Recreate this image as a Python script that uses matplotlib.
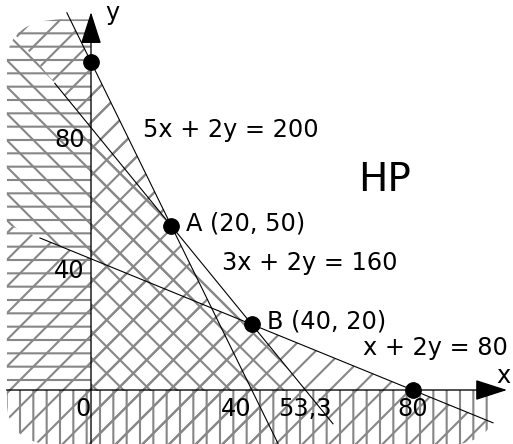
import numpy as np
import matplotlib.pyplot as plt
from matplotlib.patches import Polygon, FancyBboxPatch

plt.rcParams['font.family'] = ['DejaVu Sans']
plt.rcParams['hatch.linewidth'] = 1.9

# constraint lines  a*x + b*y = c
coef_a = [5, 3, 1]
coef_b = [2, 2, 2]
rhs = [200, 160, 80]
line_text = ['5x + 2y = 200', '3x + 2y = 160', 'x + 2y = 80']
line_from = [-6, -9, -12.7]      # x range where each line is drawn
line_to = [46.6, 60.2, 100]
text_x = [12.9, 32.6, 67.7]       # label baseline positions
text_y = [77.1, 36.6, 10.7]

# corner points
pt_x = [0, 20, 40, 80]
pt_y = [100, 50, 20, 0]
pt_name = ['', 'A', 'B', '']

# axis numbers
xnum_val = [0, 40, 53.3, 80]
xnum_text = ['0', '40', '53,3', '80']
xnum_ha = ['right', 'right', 'center', 'center']
ynum_val = [40, 80]
ynum_text = ['40', '80']

HATCH = '#878787'
DPI = 80

fig = plt.figure(figsize=(513 / DPI, 444 / DPI), dpi=DPI)
ax = fig.add_axes([0, 0, 1, 1])
ax.set_xlim(-22.64, 104.98)
ax.set_ylim(-16.46, 118.9)
ax.axis('off')


def cut(poly, a, b, c, side):
    # keep the part of poly with side*(a*x + b*y - c) <= 0
    out = []
    for i in range(len(poly)):
        p, q = poly[i], poly[(i + 1) % len(poly)]
        fp = side * (a * p[0] + b * p[1] - c)
        fq = side * (a * q[0] + b * q[1] - c)
        if fp <= 0:
            out.append(p)
        if fp * fq < 0:
            t = fp / (fp - fq)
            out.append((p[0] + t * (q[0] - p[0]), p[1] + t * (q[1] - p[1])))
    return out


def region(*conds):
    poly = [(-21, -17), (101, -17), (101, 113), (-21, 113)]
    for a, b, c, side in conds:
        poly = cut(poly, a, b, c, side)
    return poly


L1 = (coef_a[0], coef_b[0], rhs[0])
L2 = (coef_a[1], coef_b[1], rhs[1])
L3 = (coef_a[2], coef_b[2], rhs[2])

hatched = [
    (region((1, 0, 0, 1), (0, 1, 0, -1)), '-'),          # x < 0
    (region((0, 1, 0, 1)), '|'),                          # y < 0
    (region(L1 + (1,), L2 + (-1,)), '/'),
    (region(L1 + (1,), (1, 0, 0, -1)), '/'),
    (region(L3 + (1,)), '/'),
    (region(L2 + (1,), L3 + (-1,)), '\\'),
    (region(L2 + (1,), (1, 0, 0, -1), (0, 1, 0, -1)), '\\'),
]

edge = FancyBboxPatch((-21, -17), 122, 130, boxstyle='round,pad=0,rounding_size=14',
                      transform=ax.transData, facecolor='none', edgecolor='none')
for poly, h in hatched:
    patch = Polygon(poly, closed=True, facecolor='none', edgecolor=HATCH,
                    linewidth=0, hatch=h, zorder=1)
    ax.add_patch(patch)
    patch.set_clip_path(edge)

# constraint lines
for a, b, c, x0, x1 in zip(coef_a, coef_b, rhs, line_from, line_to):
    xs = np.array([x0, x1])
    ax.plot(xs, (c - a * xs) / b, color='black', lw=1.0, zorder=2)

# axes with arrows
arrow = dict(arrowstyle='-|>,head_length=1.4,head_width=0.45', mutation_scale=18,
             color='black', lw=1.2, shrinkA=0, shrinkB=0)
ax.annotate('', xy=(103.5, 0), xytext=(-21, 0), arrowprops=arrow, zorder=3)
ax.annotate('', xy=(0, 115.2), xytext=(0, -17), arrowprops=arrow, zorder=3)
ax.text(3.5, 112.8, 'y', fontsize=21.6, va='baseline', ha='left')
ax.text(100.8, 2.1, 'x', fontsize=21.6, va='baseline', ha='left')

for v, s, ha in zip(xnum_val, xnum_text, xnum_ha):
    ax.text(v, -2, s, fontsize=21.6, ha=ha, va='top')
for v, s in zip(ynum_val, ynum_text):
    ax.text(-1.5, v, s, fontsize=21.6, ha='right', va='top')

for s, tx, ty in zip(line_text, text_x, text_y):
    ax.text(tx, ty, s, fontsize=21.6, va='baseline', ha='left')

ax.text(66.4, 60.7, 'HP', fontsize=35, va='baseline', ha='left')

# corner points
ax.plot(pt_x, pt_y, 'o', color='black', markersize=14, zorder=4)
for x, y, name in zip(pt_x, pt_y, pt_name):
    if name:
        ax.annotate(f'{name} ({x}, {y})', xy=(x, y), xytext=(15, -4),
                    textcoords='offset pixels', fontsize=21.6, va='baseline')

fig.savefig('out.png', dpi=DPI)
